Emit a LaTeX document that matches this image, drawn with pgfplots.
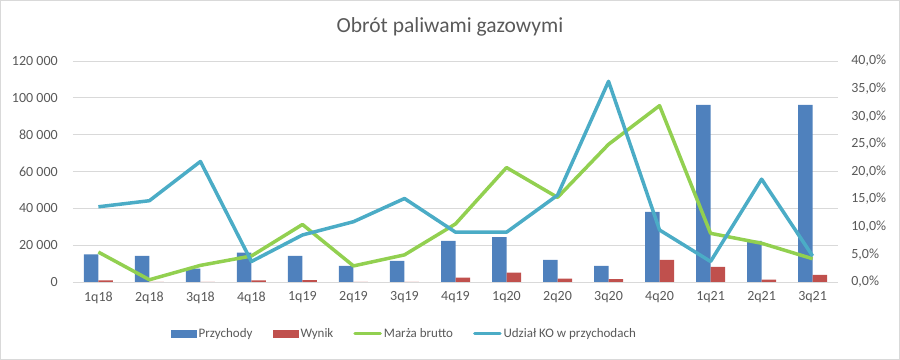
\documentclass[border=0pt]{standalone}
\usepackage{pgfplots}
\pgfplotsset{compat=1.18}
\usepackage{fontspec}
\setmainfont{Carlito}
\definecolor{cBlue}{HTML}{4F81BD}
\definecolor{cRed}{HTML}{C0504D}
\definecolor{cGreen}{HTML}{92D050}
\definecolor{cTeal}{HTML}{4BACC6}
\definecolor{cText}{HTML}{595959}
\definecolor{cGrid}{HTML}{D9D9D9}
\begin{document}
\begin{tikzpicture}
\draw[cGrid, line width=0.75bp] (0.5bp,0.5bp) rectangle (899.5bp,359.5bp);
\node[text=cText, font=\fontsize{21.5bp}{25bp}\selectfont] at (450bp,333bp) {Obrót paliwami gazowymi};
\begin{axis}[
 at={(73bp,78bp)}, anchor=south west, scale only axis, width=765bp, height=221bp,
 xmin=-0.5, xmax=14.5, ymin=0, ymax=120000,
 ybar=0pt, bar width=14.5bp,
 axis line style={draw=none}, major tick length=0pt,
 ymajorgrids, grid style={cGrid, line width=0.75bp},
 scaled y ticks=false,
 ytick={0,20000,40000,60000,80000,100000,120000},
 yticklabels={0,20 000,40 000,60 000,80 000,100 000,120 000},
 xtick={0,...,14},
 xticklabels={1q18,2q18,3q18,4q18,1q19,2q19,3q19,4q19,1q20,2q20,3q20,4q20,1q21,2q21,3q21},
 tick label style={text=cText, font=\fontsize{14bp}{16bp}\selectfont},
 yticklabel style={anchor=east, inner sep=0pt, xshift=-15bp},
 xticklabel style={yshift=-6bp},
 legend style={at={(0.433,-0.235)}, anchor=center, draw=none, fill=none,
   legend columns=4, font=\fontsize{13bp}{15bp}\selectfont, text=cText,
   /tikz/every even column/.append style={column sep=18bp}},
 legend cell align=left,
]
\addplot[fill=cBlue, draw=none, legend image code/.code={\fill[cBlue] (0bp,-4bp) rectangle (26bp,4bp);}] coordinates {
(0,15000)(1,14100)(2,7200)(3,15900)(4,14100)(5,8700)(6,11400)(7,22300)
(8,24400)(9,12000)(10,8700)(11,38000)(12,96100)(13,22300)(14,96100)};
\addlegendentry{Przychody}
\addplot[fill=cRed, draw=none, legend image code/.code={\fill[cRed] (0bp,-4bp) rectangle (26bp,4bp);}] coordinates {
(0,900)(1,0)(2,0)(3,800)(4,1000)(5,0)(6,0)(7,2300)
(8,5000)(9,1800)(10,1600)(11,12000)(12,8200)(13,1200)(14,3800)};
\addlegendentry{Wynik}
\addlegendimage{legend image code/.code={\draw[cGreen, line width=3bp, line cap=round] (1.5bp,0) -- (27bp,0);}}
\addlegendentry{Marża brutto}
\addlegendimage{legend image code/.code={\draw[cTeal, line width=3bp, line cap=round] (1.5bp,0) -- (27bp,0);}}
\addlegendentry{Udział KO w przychodach}
\end{axis}
\begin{axis}[
 at={(73bp,78bp)}, anchor=south west, scale only axis, width=765bp, height=221bp,
 xmin=-0.5, xmax=14.5, ymin=0, ymax=40,
 axis y line*=right, hide x axis,
 axis line style={draw=none}, major tick length=0pt,
 ytick={0,5,10,15,20,25,30,35,40},
 yticklabels={{0,0\%},{5,0\%},{10,0\%},{15,0\%},{20,0\%},{25,0\%},{30,0\%},{35,0\%},{40,0\%}},
 tick label style={text=cText, font=\fontsize{14bp}{16bp}\selectfont},
 yticklabel style={anchor=west, inner sep=0pt, xshift=13bp},
]
\addplot[cGreen, line width=3.5bp, line join=round] coordinates {
(0,5.4)(1,0.4)(2,3.0)(3,4.7)(4,10.4)(5,2.9)(6,4.9)(7,10.5)
(8,20.7)(9,15.3)(10,24.9)(11,31.9)(12,8.8)(13,7.0)(14,4.2)};
\addplot[cTeal, line width=3.5bp, line join=round] coordinates {
(0,13.6)(1,14.7)(2,21.8)(3,3.7)(4,8.5)(5,10.9)(6,15.1)(7,9.0)
(8,9.0)(9,15.7)(10,36.3)(11,9.4)(12,3.7)(13,18.6)(14,4.7)};
\end{axis}
\end{tikzpicture}
\end{document}
